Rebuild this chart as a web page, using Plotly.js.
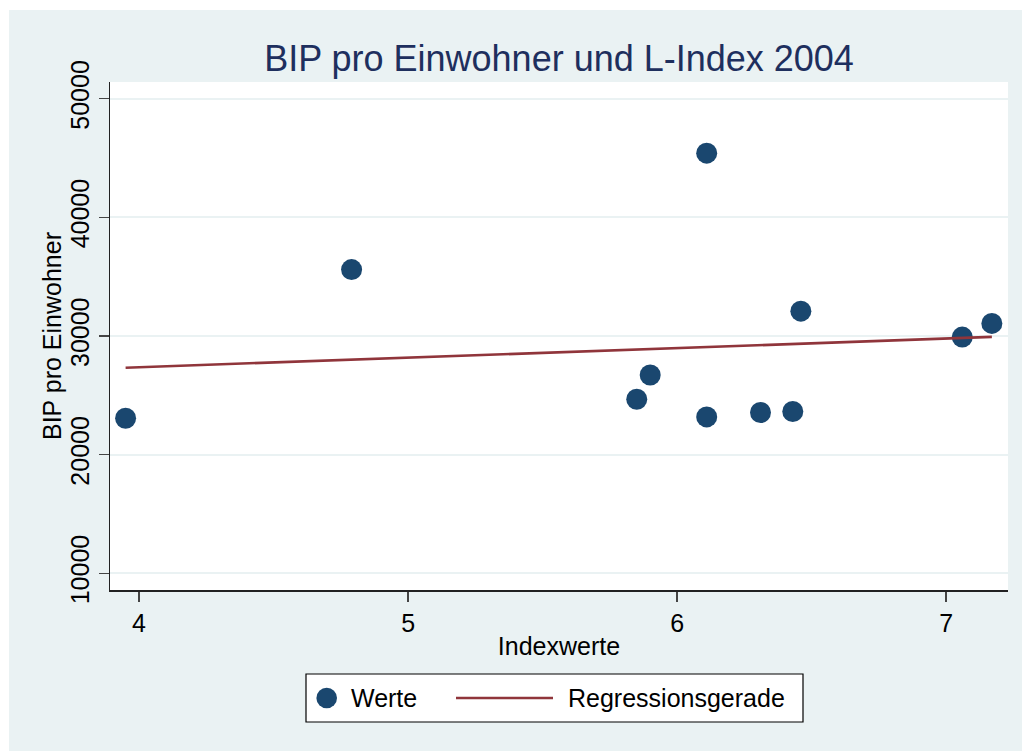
<!DOCTYPE html>
<html>
<head>
<meta charset="utf-8">
<script src="https://cdn.plot.ly/plotly-3.0.1.min.js"></script>
<style>html,body{margin:0;padding:0;background:#fff;}#chart{width:1022px;height:751px;}</style>
</head>
<body>
<div id="chart"></div>
<script>
// Data
const indexwerte = [3.95, 4.79, 5.85, 5.90, 6.11, 6.11, 6.31, 6.43, 6.46, 7.06, 7.17];
const bipProEinwohner = [23070, 35600, 24670, 26710, 45410, 23180, 23550, 23640, 32090, 29910, 31060];
const xTicks = [4, 5, 6, 7];
const yTicks = [10000, 20000, 30000, 40000, 50000];
const seriesNames = ['Werte', 'Regressionsgerade'];

// OLS regression line evaluated at min and max x
const n = indexwerte.length;
const mx = indexwerte.reduce((a, b) => a + b, 0) / n;
const my = bipProEinwohner.reduce((a, b) => a + b, 0) / n;
let sxy = 0, sxx = 0;
for (let i = 0; i < n; i++) {
  sxy += (indexwerte[i] - mx) * (bipProEinwohner[i] - my);
  sxx += (indexwerte[i] - mx) ** 2;
}
const slope = sxy / sxx;
const icpt = my - slope * mx;
const xMin = Math.min(...indexwerte), xMax = Math.max(...indexwerte);
const regX = [xMin, xMax];
const regY = regX.map(x => icpt + slope * x);

const FONT = 'Liberation Sans, Arial, sans-serif';
const BG = '#eaf2f3';
const NAVY = '#1a476f';
const MAROON = '#90353b';

// plot area in pixels: x 110..1008, y 82..590
const PX = px => (px - 110) / 898;
const PY = py => (590 - py) / 508;

const traces = [
  {
    x: indexwerte, y: bipProEinwohner, type: 'scatter', mode: 'markers', name: seriesNames[0],
    marker: {color: NAVY, size: 21, line: {width: 0}}, showlegend: false
  },
  {
    x: regX, y: regY, type: 'scatter', mode: 'lines', name: seriesNames[1],
    line: {color: MAROON, width: 2.6}, showlegend: false
  }
];

const legY = PY(698);

const layout = {
  width: 1022, height: 751,
  margin: {l: 110, r: 14, t: 82, b: 161},
  paper_bgcolor: BG,
  plot_bgcolor: '#ffffff',
  font: {family: FONT, size: 25, color: '#000'},
  showlegend: false,
  title: {
    text: 'BIP pro Einwohner und L-Index 2004',
    font: {family: FONT, size: 36, color: '#1e2f5e'},
    x: 0.5, xref: 'paper', xanchor: 'center',
    y: 1 - 58 / 751, yref: 'container', yanchor: 'middle'
  },
  xaxis: {
    range: [3.892, 7.230],
    tickvals: xTicks, ticktext: xTicks.map(String),
    ticks: 'outside', ticklen: 10, tickwidth: 1.5, tickcolor: '#444',
    showline: true, linecolor: '#222', linewidth: 1.5,
    showgrid: false, zeroline: false,
    tickfont: {family: FONT, size: 25, color: '#000'},
    title: {text: 'Indexwerte', font: {family: FONT, size: 25, color: '#000'}, standoff: 2}
  },
  yaxis: {
    range: [8592, 51407],
    tickvals: yTicks, ticktext: yTicks.map(String),
    tickangle: -90,
    ticks: 'outside', ticklen: 10, tickwidth: 1.5, tickcolor: '#444',
    showline: true, linecolor: '#222', linewidth: 1.5,
    showgrid: true, gridcolor: BG, gridwidth: 2, zeroline: false,
    tickfont: {family: FONT, size: 25, color: '#000'}
  },
  annotations: [
    {text: 'BIP pro Einwohner', xref: 'paper', yref: 'paper', x: PX(52), y: 0.5,
     xanchor: 'center', yanchor: 'middle', textangle: -90, showarrow: false,
     font: {family: FONT, size: 25, color: '#000'}},
    {text: seriesNames[0], xref: 'paper', yref: 'paper', x: PX(349), y: legY,
     xanchor: 'left', yanchor: 'middle', showarrow: false,
     font: {family: FONT, size: 25, color: '#000'}},
    {text: seriesNames[1], xref: 'paper', yref: 'paper', x: PX(566), y: legY,
     xanchor: 'left', yanchor: 'middle', showarrow: false,
     font: {family: FONT, size: 25, color: '#000'}}
  ],
  shapes: [
    // white outer margin at left and top
    {type: 'rect', xref: 'paper', yref: 'paper', x0: -0.2, x1: PX(9), y0: -0.4, y1: 1.3,
     fillcolor: '#ffffff', line: {width: 0}, layer: 'above'},
    {type: 'rect', xref: 'paper', yref: 'paper', x0: -0.2, x1: 1.2, y0: PY(10), y1: 1.3,
     fillcolor: '#ffffff', line: {width: 0}, layer: 'above'},
    // legend box
    {type: 'rect', xref: 'paper', yref: 'paper', x0: PX(306), x1: PX(803), y0: PY(722), y1: PY(674),
     fillcolor: '#ffffff', line: {color: '#000', width: 1.2}, layer: 'above'},
    // legend marker
    {type: 'circle', xref: 'paper', yref: 'paper', xsizemode: 'pixel', ysizemode: 'pixel',
     xanchor: PX(326.7), yanchor: legY, x0: -10.3, x1: 10.3, y0: -10.3, y1: 10.3,
     fillcolor: NAVY, line: {width: 0}, layer: 'above'},
    // legend line
    {type: 'line', xref: 'paper', yref: 'paper', x0: PX(456), x1: PX(553), y0: legY, y1: legY,
     line: {color: MAROON, width: 2.6}, layer: 'above'}
  ]
};

Plotly.newPlot('chart', traces, layout, {displayModeBar: false, staticPlot: true});
</script>
</body>
</html>
